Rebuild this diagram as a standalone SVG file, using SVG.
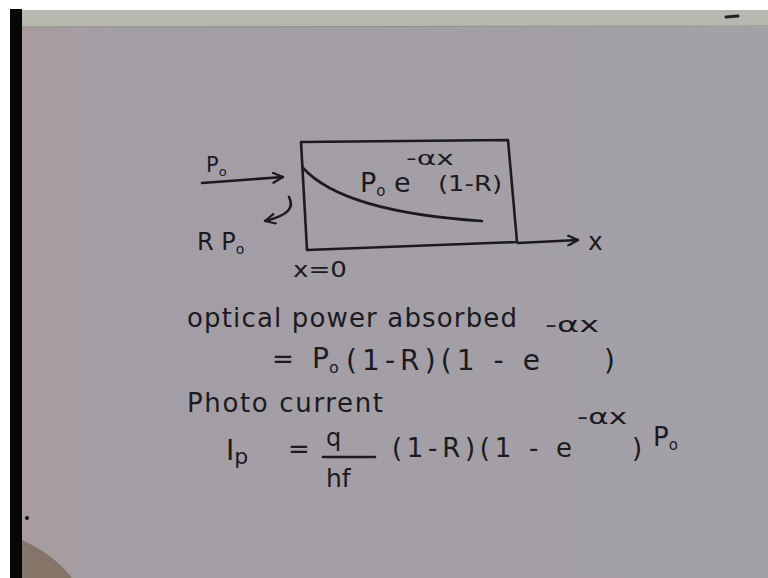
<svg xmlns="http://www.w3.org/2000/svg" width="768" height="578" viewBox="0 0 768 578">
<defs>
<marker id="vh" viewBox="0 0 12 12" refX="11" refY="6" markerWidth="12" markerHeight="12" markerUnits="userSpaceOnUse" orient="auto">
<path d="M1,1 L11,6 L1,11" fill="none" stroke="#1c1a1e" stroke-width="2.2" stroke-linecap="round" stroke-linejoin="round"/>
</marker>
<linearGradient id="paper" x1="0" y1="0" x2="1" y2="0">
<stop offset="0" stop-color="#a89c9e"/>
<stop offset="0.12" stop-color="#a39ea5"/>
<stop offset="1" stop-color="#a4a0a8"/>
</linearGradient>
<style>
.ink{fill:none;stroke:#1c1a1e;stroke-width:2.6;stroke-linecap:round;stroke-linejoin:round}
.t{font-family:"DejaVu Sans","Liberation Sans",sans-serif;fill:#1c1a1e}
</style>
</defs>
<rect x="0" y="0" width="768" height="578" fill="#ffffff"/>
<rect x="22" y="10" width="746" height="568" fill="url(#paper)"/>
<rect x="22" y="10" width="746" height="17" fill="#b6b7ae"/>
<line x1="22" y1="27" x2="768" y2="26" stroke="#8f8f88" stroke-width="1"/>
<rect x="10" y="9" width="12" height="569" fill="#060606"/>
<path d="M22,540 C40,548 58,560 72,578 L22,578 Z" fill="#857468"/>
<circle cx="27" cy="518" r="2" fill="#111"/>
<path d="M726,17 L738,16" stroke="#222" stroke-width="3" stroke-linecap="round"/>

<g id="slab">
<path class="ink" d="M301,142 L508,140 L517,242 L307,250 Z"/>
<path class="ink" d="M303,168 C325,192 375,214 482,221"/>
</g>
<g id="connectors">
<path class="ink" d="M202,183 L283,177" marker-end="url(#vh)"/>
<path class="ink" d="M289,197 C294,207 290,215 265,221" marker-end="url(#vh)"/>
<path class="ink" d="M518,243 L578,240" marker-end="url(#vh)"/>
</g>
<g id="labels">
<text class="t" x="206" y="172" font-size="21">P<tspan font-size="13" dy="4">o</tspan></text>
<text class="t" x="197" y="250" font-size="24">R P<tspan font-size="14" dy="4">o</tspan></text>
<text class="t" x="360" y="192" font-size="27">P<tspan font-size="15" dy="4">o</tspan><tspan dy="-4"> e</tspan></text>
<text class="t" x="406" y="165" font-size="20" textLength="48" lengthAdjust="spacingAndGlyphs">-αx</text>
<text class="t" x="438" y="191" font-size="21" textLength="64" lengthAdjust="spacingAndGlyphs">(1-R)</text>
<text class="t" x="293" y="277" font-size="21" textLength="54" lengthAdjust="spacingAndGlyphs">x=0</text>
<text class="t" x="588" y="250" font-size="25">x</text>
</g>
<g id="eq1">
<text class="t" x="187" y="327" font-size="26" textLength="330">optical power absorbed</text>
<text class="t" x="272" y="368" font-size="26">=</text>
<text class="t" x="312" y="368" font-size="28">P<tspan font-size="16" dy="5">o</tspan></text>
<text class="t" x="346" y="370" font-size="28" textLength="194">(1-R)(1 - e</text>
<text class="t" x="545" y="332" font-size="21" textLength="54" lengthAdjust="spacingAndGlyphs">-αx</text>
<text class="t" x="604" y="370" font-size="28">)</text>
</g>
<g id="eq2">
<text class="t" x="187" y="412" font-size="26" textLength="196">Photo current</text>
<text class="t" x="226" y="460" font-size="28">I<tspan font-size="22" dy="4">p</tspan></text>
<text class="t" x="288" y="458" font-size="26">=</text>
<text class="t" x="326" y="446" font-size="24">q</text>
<line class="ink" x1="323" y1="457" x2="375" y2="457"/>
<text class="t" x="326" y="487" font-size="25">hf</text>
<text class="t" x="392" y="457" font-size="26" textLength="180">(1-R)(1 - e</text>
<text class="t" x="577" y="424" font-size="21" textLength="50" lengthAdjust="spacingAndGlyphs">-αx</text>
<text class="t" x="632" y="457" font-size="26">)</text>
<text class="t" x="653" y="446" font-size="26">P<tspan font-size="15" dy="4">o</tspan></text>
</g>
</svg>
